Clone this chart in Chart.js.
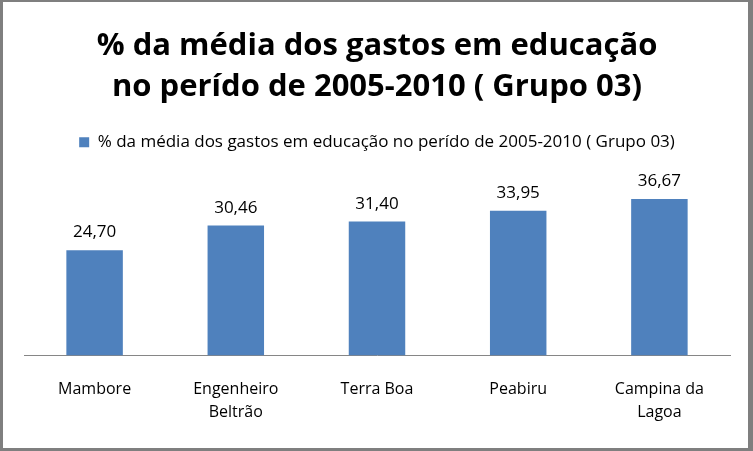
<!DOCTYPE html>
<html>
<head>
<meta charset="utf-8">
<script src="https://cdn.jsdelivr.net/npm/chart.js@4.4.1/dist/chart.umd.min.js"></script>
<style>
  html, body { margin: 0; padding: 0; background: #fff; }
  #wrap {
    width: 745px; height: 446px;
    border-style: solid; border-color: #7f7f7f;
    border-width: 2px 5px 3px 3px;
  }
</style>
</head>
<body>
<div id="wrap"><canvas id="myChart" width="745" height="446"></canvas></div>
<script>
// Categories and values
let labels = [['Mambore'], ['Engenheiro', 'Beltrão'], ['Terra Boa'], ['Peabiru'], ['Campina da', 'Lagoa']];
let values = [24.70, 30.46, 31.40, 33.95, 36.67];
let seriesName = '% da média dos gastos em educação no perído de 2005-2010 ( Grupo 03)';
let titleLines = ['% da média dos gastos em educação', 'no perído de 2005-2010 ( Grupo 03)'];

const FONT = "'Open Sans', sans-serif";

// value labels above bars
let barLabels = {
    id: 'barLabels',
    afterDatasetsDraw(chart) {
        let ctx = chart.ctx;
        let meta = chart.getDatasetMeta(0);
        ctx.save();
        ctx.font = '17px ' + FONT;
        ctx.fillStyle = '#000';
        ctx.textAlign = 'center';
        ctx.textBaseline = 'bottom';
        meta.data.forEach(function (bar, i) {
            ctx.fillText(values[i].toFixed(2).replace('.', ','), bar.x, bar.y - 9);
        });
        ctx.restore();
    }
};

// extra room under the legend
let legendGap = {
    id: 'legendGap',
    beforeInit(chart) {
        let fit = chart.legend.fit;
        chart.legend.fit = function () {
            fit.bind(chart.legend)();
            this.height += 24;
        };
    }
};

let chart1 = new Chart(document.getElementById('myChart').getContext('2d'), {
    type: 'bar',
    data: {
        labels: labels,
        datasets: [{
            label: seriesName,
            data: values,
            backgroundColor: '#4f81bd',
            barPercentage: 0.4,
            categoryPercentage: 1
        }]
    },
    options: {
        responsive: false,
        animation: false,
        layout: { padding: { left: 21, right: 18, top: 0, bottom: 10 } },
        plugins: {
            title: {
                display: true,
                text: titleLines,
                color: '#000',
                font: { family: FONT, size: 31, weight: 'bold', lineHeight: 1.32 },
                padding: { top: 24, bottom: 16 }
            },
            legend: {
                display: true,
                labels: {
                    color: '#000',
                    font: { family: FONT, size: 17 },
                    boxWidth: 10,
                    boxHeight: 10,
                    padding: 10
                }
            },
            tooltip: { enabled: false }
        },
        scales: {
            x: {
                grid: { display: false },
                border: { display: true, color: '#868686', width: 1 },
                ticks: {
                    color: '#000',
                    font: { family: FONT, size: 16, lineHeight: 1.45 },
                    padding: 14,
                    maxRotation: 0
                }
            },
            y: {
                display: false,
                min: 0,
                max: 40
            }
        }
    },
    plugins: [barLabels, legendGap]
});
</script>
</body>
</html>
